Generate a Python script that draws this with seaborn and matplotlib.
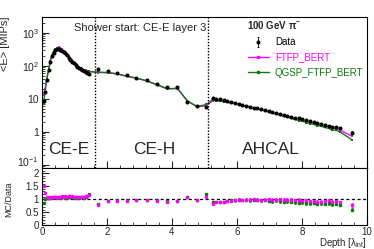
import matplotlib
matplotlib.use("Agg")
import matplotlib.pyplot as plt
from matplotlib.lines import Line2D
from matplotlib.ticker import FixedLocator, FuncFormatter, LogLocator, MultipleLocator, NullFormatter
from matplotlib.transforms import ScaledTranslation
import numpy as np
import pandas as pd
import seaborn as sns

# depth of each layer in interaction lengths
depth = [
    # CE-E
    0.05, 0.10, 0.15, 0.21, 0.26, 0.31, 0.36, 0.41, 0.46, 0.52, 0.57, 0.62, 0.67, 0.72,
    0.78, 0.83, 0.88, 0.93, 0.98, 1.04, 1.09, 1.14, 1.19, 1.24, 1.30, 1.35, 1.40, 1.45,
    # CE-H
    1.73, 2.03, 2.32, 2.62, 2.91, 3.22, 3.55, 3.86, 4.17, 4.48, 4.78, 5.06,
    # AHCAL
    5.25, 5.37, 5.48, 5.60, 5.71, 5.83, 5.94, 6.06, 6.17, 6.29, 6.40, 6.52, 6.63, 6.75,
    6.86, 6.98, 7.09, 7.21, 7.32, 7.44, 7.55, 7.67, 7.78, 7.90, 8.01, 8.13, 8.24, 8.36,
    8.47, 8.59, 8.70, 8.82, 8.93, 9.05, 9.16, 9.55,
]

e_data = [
    8.5, 16, 38, 75, 130, 195, 250, 295, 320, 325, 310, 285, 260, 235,
    205, 175, 150, 132, 118, 105, 93, 84, 77, 72, 68, 65, 62, 56,
    80, 67, 60, 51, 44, 36, 28, 22, 22, 7.8, 6.0, 5.6,
    10.5, 10.0, 9.6, 9.0, 8.5, 8.0, 7.5, 7.0, 6.6, 6.2, 5.8, 5.4, 5.1, 4.8,
    4.5, 4.2, 3.95, 3.7, 3.45, 3.25, 3.05, 2.85, 2.7, 2.55, 2.4, 2.25, 2.1, 1.98,
    1.85, 1.75, 1.65, 1.52, 1.42, 1.36, 1.3, 0.95,
]

ratio_ftfp = [
    1.5, 1.25, 1.08, 1.05, 1.08, 1.1, 1.1, 1.1, 1.08, 1.1, 1.1, 1.12, 1.1, 1.12,
    1.1, 1.12, 1.14, 1.12, 1.1, 1.1, 1.08, 1.1, 1.1, 1.08, 1.1, 1.12, 1.14, 1.18,
    0.78, 0.92, 0.93, 0.93, 0.95, 0.97, 0.93, 0.9, 0.93, 1.08, 0.95, 1.1,
    0.83, 0.88, 0.9, 0.9, 0.92, 0.93, 0.95, 0.97, 0.97, 0.98, 0.98, 1.0, 0.98, 0.97,
    0.98, 0.99, 0.97, 0.98, 0.99, 0.98, 0.96, 0.97, 0.95, 0.96, 0.94, 0.95, 0.92, 0.93,
    0.9, 0.9, 0.92, 0.95, 0.9, 0.92, 0.88, 0.77,
]

ratio_qgsp = [
    0.85, 1.0, 1.05, 1.03, 1.05, 1.06, 1.08, 1.07, 1.06, 1.08, 1.06, 1.08, 1.07, 1.06,
    1.05, 1.08, 1.1, 1.07, 1.06, 1.08, 1.05, 1.06, 1.08, 1.07, 1.05, 1.1, 1.12, 1.2,
    0.8, 0.93, 0.95, 0.95, 0.96, 0.98, 0.95, 0.92, 0.94, 1.1, 0.97, 1.2,
    0.9, 0.88, 0.88, 0.9, 0.92, 0.95, 0.96, 0.98, 0.96, 0.97, 0.95, 0.96, 0.97, 0.95,
    0.96, 0.94, 0.93, 0.95, 0.92, 0.9, 0.92, 0.9, 0.88, 0.86, 0.88, 0.85, 0.84, 0.86,
    0.83, 0.85, 0.82, 0.84, 0.8, 0.82, 0.78, 0.6,
]

# relative uncertainty of the data points
rel_err = [0.02] * 28 + [0.03] * 12 + [0.05] * 16 + [0.07] * 19 + [0.1]

section_edges = [1.63, 5.1]
section_names = ["CE-E", "CE-H", "AHCAL"]
section_x = [0.83, 3.45, 7.05]

MAGENTA = "#ff00ff"
GREEN = "#0b7d0b"

df = pd.DataFrame({"depth": depth, "data": e_data, "r_ftfp": ratio_ftfp,
                   "r_qgsp": ratio_qgsp, "rel": rel_err})
df["ftfp"] = df["data"] * df["r_ftfp"]
df["qgsp"] = df["data"] * df["r_qgsp"]
df["err"] = df["data"] * df["rel"]

sns.set_style("ticks")
plt.rcParams["font.family"] = ["Liberation Sans", "DejaVu Sans"]
plt.rcParams["mathtext.default"] = "regular"
plt.rcParams["xtick.direction"] = "in"
plt.rcParams["ytick.direction"] = "in"

fig = plt.figure(figsize=(3.74, 2.49), dpi=100)
ax = fig.add_axes([0.112, 0.325, 0.869, 0.607])
axr = fig.add_axes([0.112, 0.096, 0.869, 0.229])

# --- top panel ---
sns.lineplot(data=df, x="depth", y="ftfp", ax=ax, color=MAGENTA, lw=1.0,
             marker="s", markersize=1.8, markeredgewidth=0, sort=False)
sns.lineplot(data=df, x="depth", y="qgsp", ax=ax, color=GREEN, lw=1.0,
             marker="s", markersize=1.8, markeredgewidth=0, sort=False)
data_h = ax.errorbar(df["depth"], df["data"], yerr=df["err"], fmt="o", color="black",
                     markersize=1.9, elinewidth=0.6, capsize=0.8, capthick=0.6, zorder=5)

ax.set_yscale("log")
ax.set_xlim(0, 10)
ax.set_ylim(0.08, 3000)

labels = {1000: "$10^{3}$", 100: "$10^{2}$", 10: "10", 1: "1", 0.1: "$10^{-1}$"}
ax.yaxis.set_major_locator(FixedLocator([0.1, 1, 10, 100, 1000]))
ax.yaxis.set_major_formatter(FuncFormatter(lambda v, p: labels.get(round(v, 3) if v < 1 else int(round(v)), "")))
ax.yaxis.set_minor_locator(LogLocator(base=10, subs=np.arange(2, 10)))
ax.yaxis.set_minor_formatter(NullFormatter())
ax.xaxis.set_major_locator(MultipleLocator(2))
ax.xaxis.set_minor_locator(MultipleLocator(0.4))
ax.tick_params(axis="x", labelbottom=False)
ax.tick_params(which="major", length=5, width=0.8, labelsize=7.5, pad=2)
ax.tick_params(which="minor", length=2.5, width=0.6)
ax.set_xlabel("")
ax.set_ylabel("<E> [MIPs]", fontsize=8, loc="top")
ax.yaxis.set_label_coords(-0.098, 1.0)

for xe in section_edges:
    ax.axvline(xe, color="black", ls=(0, (1, 1.2)), lw=1.0)
for name, xs in zip(section_names, section_x):
    ax.text(xs, 0.12, name, transform=ax.get_xaxis_transform(), ha="center",
            va="center", fontsize=12.5)

ax.text(1.0, 0.93, "Shower start: CE-E layer 3", transform=ax.get_xaxis_transform(),
        ha="left", va="center", fontsize=8)
ax.text(0.632, 0.945, r"100 GeV $\pi^{-}$", transform=ax.transAxes, ha="left",
        va="center", fontsize=7, fontweight="bold")

handles = [data_h,
           Line2D([], [], color=MAGENTA, lw=1.0, marker="s", markersize=1.8),
           Line2D([], [], color=GREEN, lw=1.0, marker="s", markersize=1.8)]
ax.legend(handles, ["Data", "FTFP_BERT", "QGSP_FTFP_BERT"], loc="upper left",
          bbox_to_anchor=(0.615, 0.905), frameon=False, fontsize=7,
          labelcolor=["black", MAGENTA, GREEN], handlelength=2.2,
          handletextpad=0.6, labelspacing=0.55, borderpad=0.1)

# --- ratio panel ---
axr.errorbar(df["depth"], df["r_qgsp"], yerr=df["rel"] * df["r_qgsp"], fmt="s",
             color=GREEN, markersize=1.5, elinewidth=0.7, capsize=0.8, capthick=0.6)
axr.errorbar(df["depth"], df["r_ftfp"], yerr=df["rel"] * df["r_ftfp"], fmt="s",
             color=MAGENTA, markersize=2.0, elinewidth=0.6, capsize=0.8, capthick=0.6,
             alpha=0.9)
axr.axhline(1.0, color="black", ls=(0, (2.5, 2)), lw=0.9)
axr.set_xlim(0, 10)
axr.set_ylim(0, 2.2)
axr.xaxis.set_major_locator(MultipleLocator(2))
axr.xaxis.set_minor_locator(MultipleLocator(0.4))
axr.yaxis.set_major_locator(MultipleLocator(0.5))
axr.yaxis.set_minor_locator(MultipleLocator(0.1))
axr.yaxis.set_major_formatter(FuncFormatter(lambda v, p: f"{v:g}"))
axr.tick_params(which="major", length=5, width=0.8, labelsize=7, pad=1.5)
axr.tick_params(axis="y", which="major", pad=2)
axr.tick_params(which="minor", length=2.5, width=0.6)
axr.set_ylabel("MC/Data", fontsize=6.5)
axr.yaxis.set_label_coords(-0.088, 0.45)
axr.set_xlabel(r"Depth [$\lambda_{int}$]", fontsize=7, loc="right")
axr.xaxis.set_label_coords(1.0, -0.19)

for a in (ax, axr):
    for s in a.spines.values():
        s.set_linewidth(0.8)
        s.set_color("black")

# nudge the lowest log label up so it clears the ratio panel's "2"
low = ax.yaxis.get_major_ticks(5)[0].label1
low.set_transform(low.get_transform() + ScaledTranslation(0, 2.5 / 72, fig.dpi_scale_trans))

fig.savefig("out.png", dpi=100)
